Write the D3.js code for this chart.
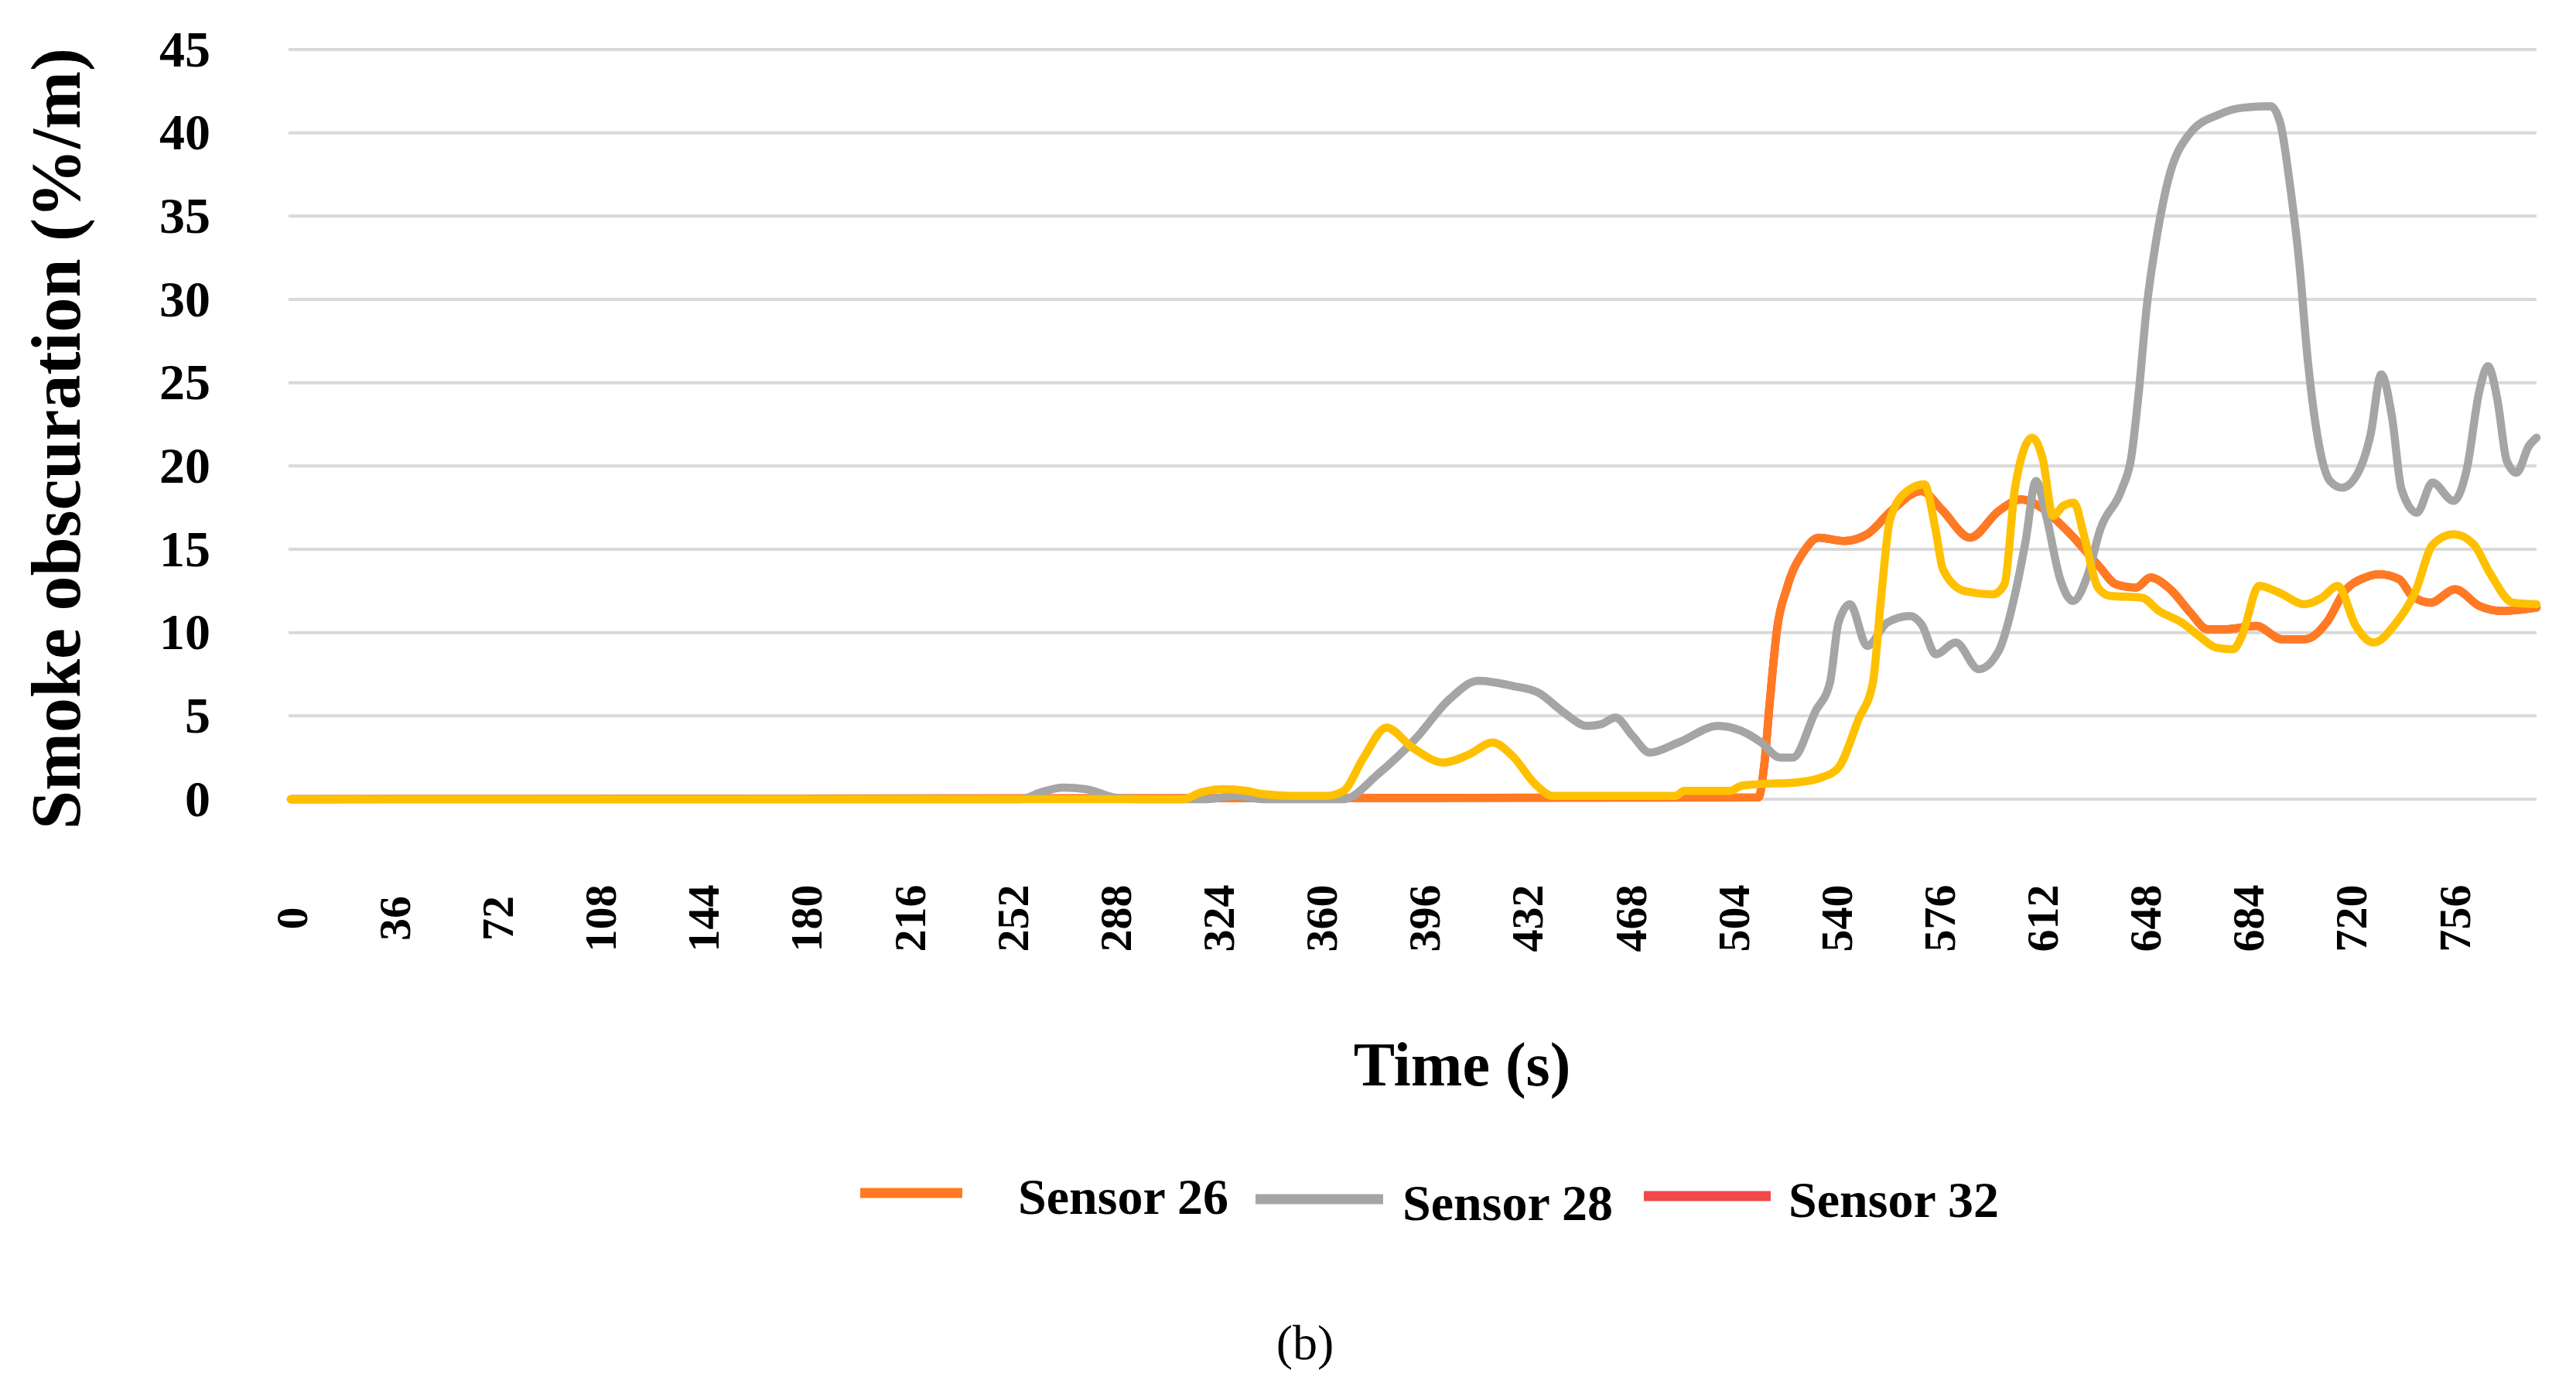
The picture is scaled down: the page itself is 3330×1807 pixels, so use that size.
<!DOCTYPE html>
<html>
<head>
<meta charset="utf-8">
<script src="https://cdn.jsdelivr.net/npm/d3@7"></script>
<style>
  body { margin: 0; background: #fff; }
  text { font-family: "Liberation Serif", "Times New Roman", serif; }
</style>
</head>
<body>
<div id="chart"></div>
<script>
// values (time in s, smoke obscuration in %/m)
const s26Time  = [0, 513, 515, 517, 519.5, 523, 529, 534, 543, 551, 560, 570, 577, 587, 597, 605, 611, 621, 632, 638, 645, 650, 657, 664, 670, 676, 687, 696, 704, 712, 718, 725, 730, 737, 741.5, 748, 756.5, 765, 773, 785];
const s26Value = [0, 0.1, 2, 5.9, 10.2, 12.7, 14.9, 15.7, 15.5, 15.9, 17.4, 18.5, 17.4, 15.7, 17.3, 18, 17.6, 16.1, 14, 12.9, 12.7, 13.3, 12.6, 11.2, 10.2, 10.2, 10.4, 9.6, 9.6, 10.7, 12.5, 13.3, 13.5, 13.2, 12.2, 11.8, 12.6, 11.6, 11.3, 11.5];

const s28Time  = [0, 255, 262, 270, 278, 288, 296, 320, 330, 340, 368, 380, 393, 405, 415, 427, 436, 445, 453, 458, 463, 469, 475, 485, 499, 507, 514, 520.5, 525, 533, 538, 541, 545, 551, 558, 566, 570, 575, 582, 590, 597, 602.7, 606.4, 610, 613.6, 618.5, 623, 628, 632.5, 640, 643.3, 646, 648.7, 652, 656, 664, 674, 682, 692, 695.4, 698.7, 702, 705, 708.5, 712.8, 717, 722.6, 727, 730.7, 734.5, 737.8, 743.2, 748.6, 756, 760.6, 765, 768, 771.3, 774.6, 778, 782.3, 785];
const s28Value = [0, 0, 0.4, 0.7, 0.6, 0.1, 0, 0, 0.2, 0, 0, 1.5, 3.6, 6, 7.1, 6.8, 6.4, 5.2, 4.4, 4.5, 4.9, 3.8, 2.8, 3.4, 4.4, 4.1, 3.4, 2.5, 2.5, 5.3, 7, 10.6, 11.7, 9.2, 10.6, 11, 10.5, 8.7, 9.4, 7.8, 8.9, 12.3, 15.5, 19.1, 17, 13.2, 11.9, 13.4, 16.2, 18.6, 20.5, 24.5, 29.5, 33.5, 37, 40, 41.1, 41.5, 41.6, 40.6, 37, 32.3, 26.4, 21.7, 19.1, 18.7, 19.6, 21.9, 25.5, 22.9, 18.6, 17.2, 19, 17.9, 19.8, 24.5, 26, 24, 20.3, 19.6, 21.2, 21.7];

// Sensor 32 runs under Sensor 26 over the whole record
const s32Time  = [0, 513, 515, 517, 519.5, 523, 529, 534, 543, 551, 560, 570, 577, 587, 597, 605, 611, 621, 632, 638, 645, 650, 657, 664, 670, 676, 687, 696, 704, 712, 718, 725, 730, 737, 741.5, 748, 756.5, 765, 773, 785];
const s32Value = [0, 0.1, 2, 5.9, 10.2, 12.7, 14.9, 15.7, 15.5, 15.9, 17.4, 18.5, 17.4, 15.7, 17.3, 18, 17.6, 16.1, 14, 12.9, 12.7, 13.3, 12.6, 11.2, 10.2, 10.2, 10.4, 9.6, 9.6, 10.7, 12.5, 13.3, 13.5, 13.2, 12.2, 11.8, 12.6, 11.6, 11.3, 11.5];

// unlabelled yellow series
const s30Time  = [0, 312, 318, 326, 334, 340, 350, 362, 368, 375, 383, 392, 403, 412, 420, 427, 435, 441, 484, 487, 503, 507, 513, 526, 535, 541, 548, 553, 556, 559, 565, 571, 575, 577.5, 585, 595, 599, 602.7, 608.7, 612.4, 616, 619.5, 623.3, 626.7, 631.7, 636, 647, 653, 661, 667, 673, 679, 682, 688, 695, 704, 710, 715.5, 721.8, 728, 736, 742.5, 748.8, 756, 763, 768.6, 776.7, 785];
const s30Value = [0, 0, 0.4, 0.6, 0.5, 0.3, 0.2, 0.2, 0.5, 2.5, 4.3, 3.1, 2.2, 2.7, 3.4, 2.6, 0.9, 0.2, 0.2, 0.5, 0.5, 0.8, 0.9, 1, 1.3, 1.9, 4.8, 7, 12.3, 16.8, 18.5, 18.9, 16.1, 13.8, 12.5, 12.3, 12.9, 18.7, 21.7, 20.4, 17, 17.6, 17.8, 15.9, 12.7, 12.2, 12.1, 11.3, 10.6, 9.8, 9.1, 9.0, 9.8, 12.8, 12.4, 11.7, 12.1, 12.8, 10.4, 9.4, 10.6, 12.4, 15.3, 15.9, 15.3, 13.6, 11.8, 11.7];

const xTicks = [0, 36, 72, 108, 144, 180, 216, 252, 288, 324, 360, 396, 432, 468, 504, 540, 576, 612, 648, 684, 720, 756];
const yTicks = [0, 5, 10, 15, 20, 25, 30, 35, 40, 45];

const legendNames  = ["Sensor 26", "Sensor 28", "Sensor 32"];
const legendColors = ["#FF7A22", "#A5A5A5", "#F04A4A"];

const W = 3330, H = 1807;

// legend placement: swatch start, swatch end, text start, vertical offset
const legendLayout = [
  { x1: 1112, x2: 1244, tx: 1316, dy: 0 },
  { x1: 1623, x2: 1788, tx: 1813, dy: 8 },
  { x1: 2125, x2: 2289, tx: 2312, dy: 4 }
];

const svg = d3.select("#chart").append("svg")
  .attr("width", W).attr("height", H)
  .style("display", "block");

svg.append("rect").attr("width", W).attr("height", H).attr("fill", "#fff");

const x = d3.scaleLinear().domain([0, 785]).range([376, 3279]);
const y = d3.scaleLinear().domain([0, 45]).range([1033, 64]);

// horizontal gridlines
svg.append("g").selectAll("line")
  .data(yTicks)
  .enter().append("line")
  .attr("x1", 373).attr("x2", x(785))
  .attr("y1", d => y(d)).attr("y2", d => y(d))
  .attr("stroke", "#D9D9D9")
  .attr("stroke-width", 4);

// y axis labels
const yAxis = svg.append("g")
  .attr("transform", "translate(272,0)")
  .call(d3.axisLeft(y).tickValues(yTicks).tickSize(0).tickPadding(0));
yAxis.select(".domain").remove();
yAxis.selectAll("text")
  .attr("font-family", "Liberation Serif")
  .attr("font-weight", "bold")
  .attr("font-size", 66)
  .attr("fill", "#000");

// x axis labels, rotated
const xAxis = svg.append("g")
  .attr("transform", "translate(0,1187)")
  .call(d3.axisBottom(x).tickValues(xTicks).tickSize(0).tickPadding(0));
xAxis.select(".domain").remove();
xAxis.selectAll("text")
  .attr("y", 0)
  .attr("dy", "0.35em")
  .attr("transform", "rotate(-90)")
  .attr("text-anchor", "middle")
  .attr("font-family", "Liberation Serif")
  .attr("font-weight", "bold")
  .attr("font-size", 58)
  .attr("fill", "#000");

// series
const series = [
  { time: s32Time, value: s32Value, color: "#F04A4A" },
  { time: s26Time, value: s26Value, color: "#FF7A22" },
  { time: s28Time, value: s28Value, color: "#A5A5A5" },
  { time: s30Time, value: s30Value, color: "#FFC000" }
];

const line = d3.line()
  .x(d => x(d[0]))
  .y(d => y(d[1]))
  .curve(d3.curveMonotoneX);

svg.append("g").selectAll("path")
  .data(series)
  .enter().append("path")
  .attr("d", s => line(s.time.map((t, i) => [t, s.value[i]])))
  .attr("fill", "none")
  .attr("stroke", s => s.color)
  .attr("stroke-width", 10.5)
  .attr("stroke-linejoin", "round")
  .attr("stroke-linecap", "round");

// axis titles
svg.append("text")
  .attr("transform", "translate(103,567) rotate(-90)")
  .attr("text-anchor", "middle")
  .attr("font-weight", "bold")
  .attr("font-size", 90)
  .text("Smoke obscuration (%/m)");

svg.append("text")
  .attr("x", 1890).attr("y", 1403)
  .attr("text-anchor", "middle")
  .attr("font-weight", "bold")
  .attr("font-size", 80)
  .text("Time (s)");

// legend
const legend = svg.append("g").selectAll("g")
  .data(legendNames)
  .enter().append("g")
  .attr("transform", (d, i) => `translate(0,${1542 + legendLayout[i].dy})`);

legend.append("line")
  .attr("x1", (d, i) => legendLayout[i].x1)
  .attr("x2", (d, i) => legendLayout[i].x2)
  .attr("y1", 0).attr("y2", 0)
  .attr("stroke", (d, i) => legendColors[i])
  .attr("stroke-width", 13);

legend.append("text")
  .attr("x", (d, i) => legendLayout[i].tx)
  .attr("y", 27)
  .attr("font-weight", "bold")
  .attr("font-size", 66)
  .text(d => d);

svg.append("text")
  .attr("x", 1687).attr("y", 1757)
  .attr("text-anchor", "middle")
  .attr("font-size", 64)
  .text("(b)");
</script>
</body>
</html>
